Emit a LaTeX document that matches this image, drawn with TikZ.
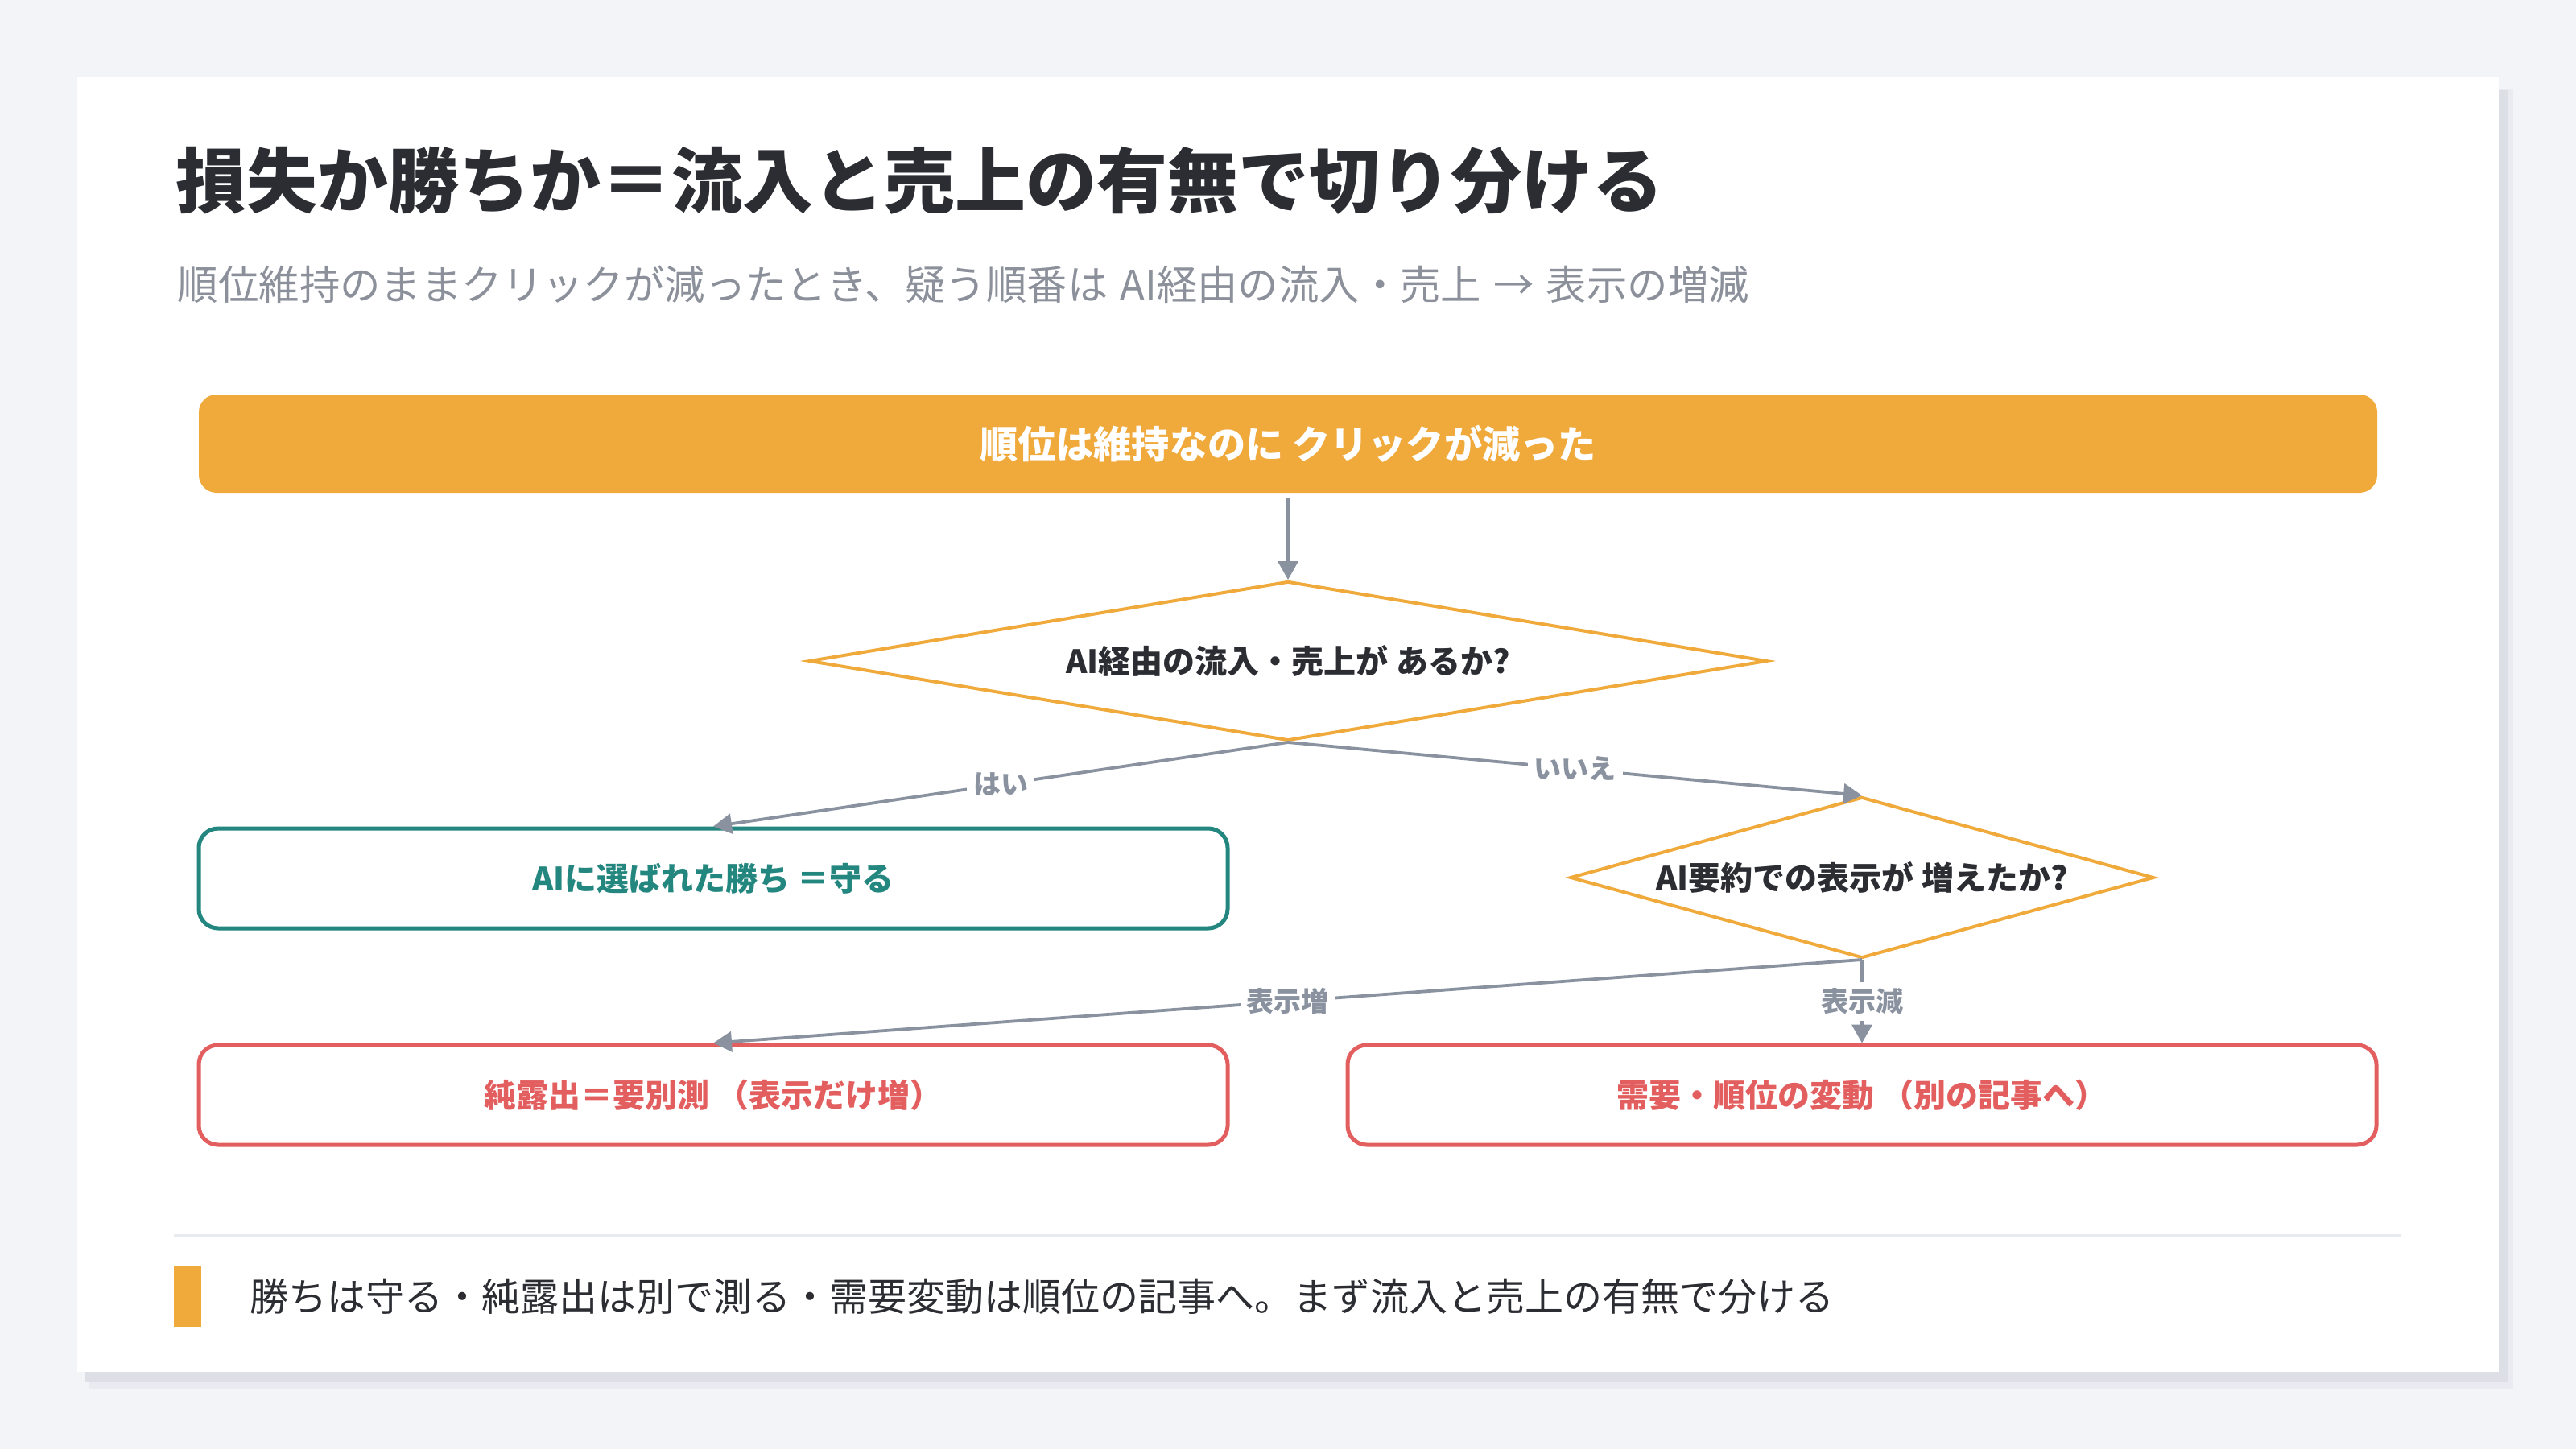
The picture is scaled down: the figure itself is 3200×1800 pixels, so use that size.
\documentclass[tikz,border=0pt]{standalone}
\usepackage{fontspec}
\setmainfont{Noto Sans CJK JP}
\usetikzlibrary{shapes.geometric,arrows.meta}

\definecolor{pagebg}{HTML}{F3F4F8}
\definecolor{shadowA}{HTML}{E9EBF0}
\definecolor{shadowB}{HTML}{DCDFE5}
\definecolor{ink}{HTML}{2B2D33}
\definecolor{subgray}{HTML}{8B909A}
\definecolor{accent}{HTML}{F0A93B}
\definecolor{tealc}{HTML}{24877F}
\definecolor{redc}{HTML}{E35F5F}
\definecolor{edgegray}{HTML}{8A92A0}
\definecolor{rulegray}{HTML}{E8EBEF}

\newcommand{\gap}{\hspace{0.3em}}

\tikzset{
  banner/.style={fill=accent, draw=none, rounded corners=5.5pt,
    minimum width=676.5pt, minimum height=30.5pt, inner sep=0pt,
    text=white, font=\bfseries\fontsize{11.8pt}{14pt}\selectfont},
  decision/.style={diamond, draw=accent, line width=1pt, fill=white,
    inner sep=0pt, text=ink,
    font=\bfseries\fontsize{10pt}{12pt}\selectfont},
  outcome/.style={draw=#1, line width=1.25pt, rounded corners=6pt, fill=white,
    minimum width=319.5pt, minimum height=31pt, inner sep=0pt, text=#1,
    font=\bfseries\fontsize{10pt}{12pt}\selectfont},
  flow/.style={draw=edgegray, line width=0.95pt,
    -{Triangle[width=6.25pt,length=5.75pt]}},
  edgelabel/.style={fill=white, inner sep=2pt, text=edgegray,
    font=\bfseries\fontsize{8.5pt}{10pt}\selectfont},
}

\begin{document}
\begin{tikzpicture}[x=0.25pt,y=-0.25pt]
  % page and card
  \fill[pagebg] (0,0) rectangle (3200,1800);
  \useasboundingbox (0,0) rectangle (3200,1800);
  \fill[shadowA] (110,110) rectangle (3122,1725);
  \fill[shadowB] (106,112) rectangle (3116,1716);
  \fill[white] (96,96) rectangle (3104,1704);

  % heading
  \node[anchor=west, inner sep=0pt, text=ink,
        font=\bfseries\fontsize{22pt}{26pt}\selectfont] (title) at (218,224)
        {損失か勝ちか＝流入と売上の有無で切り分ける};
  \node[anchor=west, inner sep=0pt, text=subgray,
        font=\fontsize{12.6pt}{14pt}\selectfont] (subtitle) at (220,353)
        {順位維持のままクリックが減ったとき、疑う順番は\gap AI経由の流入・売上\gap →\gap 表示の増減};

  % flow
  \node[banner] (start) at (1600,551) {順位は維持なのに クリックが減った};
  \node[decision, aspect=6, minimum width=297.5pt, minimum height=49.5pt] (q1) at (1600,821)
        {AI経由の流入・売上が あるか?};
  \node[decision, aspect=3.6, minimum width=181.25pt, minimum height=50pt] (q2) at (2313,1090)
        {AI要約での表示が 増えたか?};
  \node[outcome=tealc] (keep) at (886,1091) {AIに選ばれた勝ち ＝守る};
  \node[outcome=redc] (expo) at (886,1360) {純露出＝要別測 （表示だけ増）};
  \node[outcome=redc] (demand) at (2313,1360) {需要・順位の変動 （別の記事へ）};

  \draw[flow, shorten <=1.2pt] (start.south) -- (q1.north);
  \draw[flow] (q1.south) -- node[edgelabel] {はい} (keep.north);
  \draw[flow] (q1.south) -- node[edgelabel] {いいえ} (q2.north);
  \draw[flow] (q2.south) -- node[edgelabel] {表示増} (expo.north);
  \draw[flow] (q2.south) -- node[edgelabel] {表示減} (demand.north);

  % footer
  \draw[rulegray, line width=1pt] (216,1535) -- (2982,1535);
  \fill[accent] (216,1572) rectangle (250,1648);
  \node[anchor=west, inner sep=0pt, text=ink,
        font=\fontsize{12pt}{14pt}\selectfont] (summary) at (310,1610)
        {勝ちは守る・純露出は別で測る・需要変動は順位の記事へ。まず流入と売上の有無で分ける};
\end{tikzpicture}
\end{document}
